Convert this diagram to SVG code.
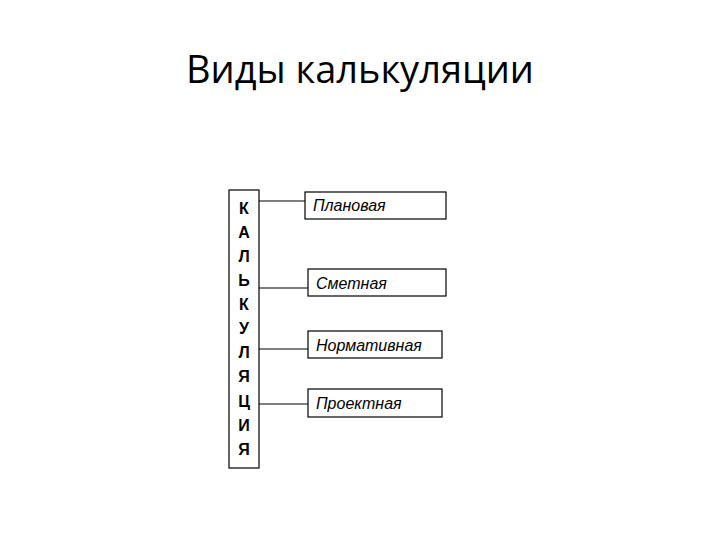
<svg xmlns="http://www.w3.org/2000/svg" width="720" height="540" viewBox="0 0 720 540">
<style>
.box{fill:#fff;stroke:#000;stroke-width:1.2}
.lbl{font-family:"Liberation Sans",Arial,sans-serif;font-style:italic;font-size:16px;fill:#000}
.v{font-family:"Liberation Sans",Arial,sans-serif;font-weight:bold;font-size:16px;fill:#000;text-anchor:middle}
.c{stroke:#000;stroke-width:1.2;fill:none}
</style>
<rect width="720" height="540" fill="#fff"/>
<text x="360" y="83" font-family="'Open Sans','Liberation Sans',sans-serif" font-size="38" text-anchor="middle" fill="#000">Виды калькуляции</text>
<g id="connectors">
<line class="c" x1="259" y1="201" x2="305" y2="201"/>
<line class="c" x1="259" y1="288" x2="308" y2="288"/>
<line class="c" x1="259" y1="349" x2="308" y2="349"/>
<line class="c" x1="259" y1="404" x2="308" y2="404"/>
</g>
<g id="kalkulyaciya">
<rect class="box" x="229" y="190" width="30" height="278"/>
<text class="v" x="244" y="214">К</text>
<text class="v" x="244" y="238">А</text>
<text class="v" x="244" y="262">Л</text>
<text class="v" x="244" y="286">Ь</text>
<text class="v" x="244" y="310">К</text>
<text class="v" x="244" y="334">У</text>
<text class="v" x="244" y="358">Л</text>
<text class="v" x="244" y="382">Я</text>
<text class="v" x="244" y="407">Ц</text>
<text class="v" x="244" y="431">И</text>
<text class="v" x="244" y="455">Я</text>
</g>
<g id="planovaya">
<rect class="box" x="305" y="192" width="141" height="27"/>
<text class="lbl" x="313" y="211">Плановая</text>
</g>
<g id="smetnaya">
<rect class="box" x="308" y="269" width="138" height="27"/>
<text class="lbl" x="316" y="289">Сметная</text>
</g>
<g id="normativnaya">
<rect class="box" x="308" y="331" width="134" height="27"/>
<text class="lbl" x="316" y="351">Нормативная</text>
</g>
<g id="proektnaya">
<rect class="box" x="308" y="389" width="134" height="28"/>
<text class="lbl" x="316" y="409">Проектная</text>
</g>
</svg>
